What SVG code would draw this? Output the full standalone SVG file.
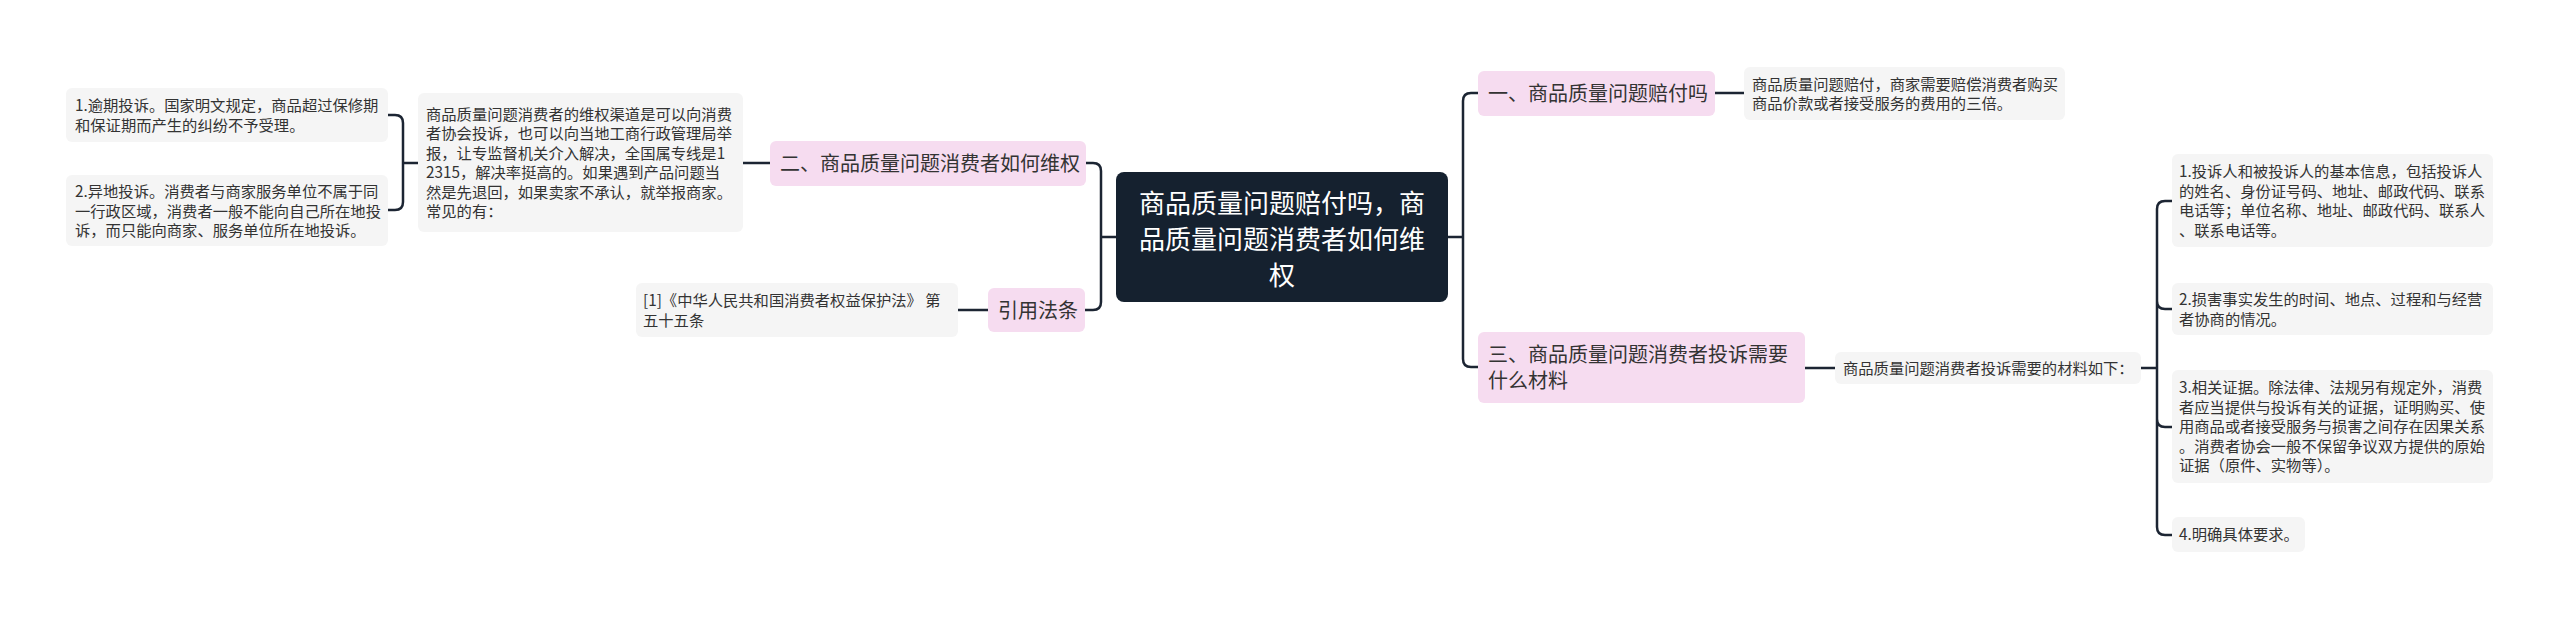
<svg xmlns="http://www.w3.org/2000/svg" width="2560" height="618" viewBox="0 0 2560 618">
<style>
.bg{fill:#ffffff}
.sm{fill:#f5f5f5}
.pk{fill:#f6dcf0}
.ct{fill:#15212f}
.t{font-family:"Noto Sans CJK SC","Noto Sans",sans-serif;font-size:15.3px;fill:#333333}
.tp{font-family:"Noto Sans CJK SC","Noto Sans",sans-serif;font-size:20px;fill:#333333}
.tc{font-family:"Noto Sans CJK SC","Noto Sans",sans-serif;font-size:26px;fill:#ffffff;text-anchor:middle}
.ln{fill:none;stroke:#1c2533;stroke-width:2.5;stroke-linecap:round;stroke-linejoin:round}
</style>
<rect class="bg" x="0" y="0" width="2560" height="618"/>
<g id="connectors">
<path class="ln" d="M1116,237 H1101 M1101,237 V171 Q1101,163 1093,163 H1086 M1101,237 V302 Q1101,310 1093,310 H1085"/>
<path class="ln" d="M743,163 H770"/>
<path class="ln" d="M418,163 H403 M403,163 V123 Q403,115 395,115 H388 M403,163 V202 Q403,210 395,210 H388"/>
<path class="ln" d="M958,310 H988"/>
<path class="ln" d="M1448,237 H1463 M1463,237 V101 Q1463,93 1471,93 H1478 M1463,237 V359 Q1463,367 1471,367 H1478"/>
<path class="ln" d="M1715,93 H1744"/>
<path class="ln" d="M1805,368 H1835"/>
<path class="ln" d="M2141,368 H2157 M2157,368 V209 Q2157,201 2165,201 H2172 M2157,368 V301 Q2157,309 2165,309 H2172 M2157,368 V419 Q2157,427 2165,427 H2172 M2157,368 V527 Q2157,535 2165,535 H2172"/>
</g>
<g id="root">
<rect class="ct" x="1116" y="172" width="332" height="130" rx="8"/>
<text class="tc" x="1282" y="213">商品质量问题赔付吗，商</text>
<text class="tc" x="1282" y="249">品质量问题消费者如何维</text>
<text class="tc" x="1282" y="285">权</text>
</g>
<g id="n2">
<rect class="pk" x="770" y="141" width="316" height="45" rx="6"/>
<text class="tp" x="780" y="171">二、商品质量问题消费者如何维权</text>
</g>
<g id="n2-desc">
<rect class="sm" x="418" y="93" width="325" height="139" rx="6"/>
<text class="t" x="426" y="119.6">商品质量问题消费者的维权渠道是可以向消费</text>
<text class="t" x="426" y="139.1">者协会投诉，也可以向当地工商行政管理局举</text>
<text class="t" x="426" y="158.6">报，让专监督机关介入解决，全国属专线是1</text>
<text class="t" x="426" y="178.1">2315，解决率挺高的。如果遇到产品问题当</text>
<text class="t" x="426" y="197.6">然是先退回，如果卖家不承认，就举报商家。</text>
<text class="t" x="426" y="217.1">常见的有：</text>
</g>
<g id="n2-item1">
<rect class="sm" x="66" y="88" width="322" height="54" rx="6"/>
<text class="t" x="75" y="111.2">1.逾期投诉。国家明文规定，商品超过保修期</text>
<text class="t" x="75" y="130.7">和保证期而产生的纠纷不予受理。</text>
</g>
<g id="n2-item2">
<rect class="sm" x="66" y="175" width="322" height="71" rx="6"/>
<text class="t" x="75" y="197.4">2.异地投诉。消费者与商家服务单位不属于同</text>
<text class="t" x="75" y="216.9">一行政区域，消费者一般不能向自己所在地投</text>
<text class="t" x="75" y="236.4">诉，而只能向商家、服务单位所在地投诉。</text>
</g>
<g id="n-law">
<rect class="pk" x="988" y="288" width="97" height="44" rx="6"/>
<text class="tp" x="998" y="317.6">引用法条</text>
</g>
<g id="n-law-ref">
<rect class="sm" x="636" y="283" width="322" height="54" rx="6"/>
<text class="t" x="643" y="306.2">[1]《中华人民共和国消费者权益保护法》 第</text>
<text class="t" x="643" y="325.7">五十五条</text>
</g>
<g id="n1">
<rect class="pk" x="1478" y="71" width="237" height="45" rx="6"/>
<text class="tp" x="1488" y="101">一、商品质量问题赔付吗</text>
</g>
<g id="n1-desc">
<rect class="sm" x="1744" y="67" width="321" height="53" rx="6"/>
<text class="t" x="1752" y="89.7">商品质量问题赔付，商家需要赔偿消费者购买</text>
<text class="t" x="1752" y="109.2">商品价款或者接受服务的费用的三倍。</text>
</g>
<g id="n3">
<rect class="pk" x="1478" y="332" width="327" height="71" rx="6"/>
<text class="tp" x="1488" y="362">三、商品质量问题消费者投诉需要</text>
<text class="tp" x="1488" y="388">什么材料</text>
</g>
<g id="n3-desc">
<rect class="sm" x="1835" y="352" width="306" height="32" rx="6"/>
<text class="t" x="1843" y="373.9">商品质量问题消费者投诉需要的材料如下：</text>
</g>
<g id="n3-item1">
<rect class="sm" x="2172" y="154" width="321" height="93" rx="6"/>
<text class="t" x="2179" y="177.2">1.投诉人和被投诉人的基本信息，包括投诉人</text>
<text class="t" x="2179" y="196.7">的姓名、身份证号码、地址、邮政代码、联系</text>
<text class="t" x="2179" y="216.2">电话等；单位名称、地址、邮政代码、联系人</text>
<text class="t" x="2179" y="235.7">、联系电话等。</text>
</g>
<g id="n3-item2">
<rect class="sm" x="2172" y="283" width="321" height="52" rx="6"/>
<text class="t" x="2179" y="305.2">2.损害事实发生的时间、地点、过程和与经营</text>
<text class="t" x="2179" y="324.7">者协商的情况。</text>
</g>
<g id="n3-item3">
<rect class="sm" x="2172" y="370" width="321" height="113" rx="6"/>
<text class="t" x="2179" y="393.4">3.相关证据。除法律、法规另有规定外，消费</text>
<text class="t" x="2179" y="412.9">者应当提供与投诉有关的证据，证明购买、使</text>
<text class="t" x="2179" y="432.4">用商品或者接受服务与损害之间存在因果关系</text>
<text class="t" x="2179" y="451.9">。消费者协会一般不保留争议双方提供的原始</text>
<text class="t" x="2179" y="471.4">证据（原件、实物等）。</text>
</g>
<g id="n3-item4">
<rect class="sm" x="2172" y="517" width="133" height="35" rx="6"/>
<text class="t" x="2179" y="540.4">4.明确具体要求。</text>
</g>
</svg>
